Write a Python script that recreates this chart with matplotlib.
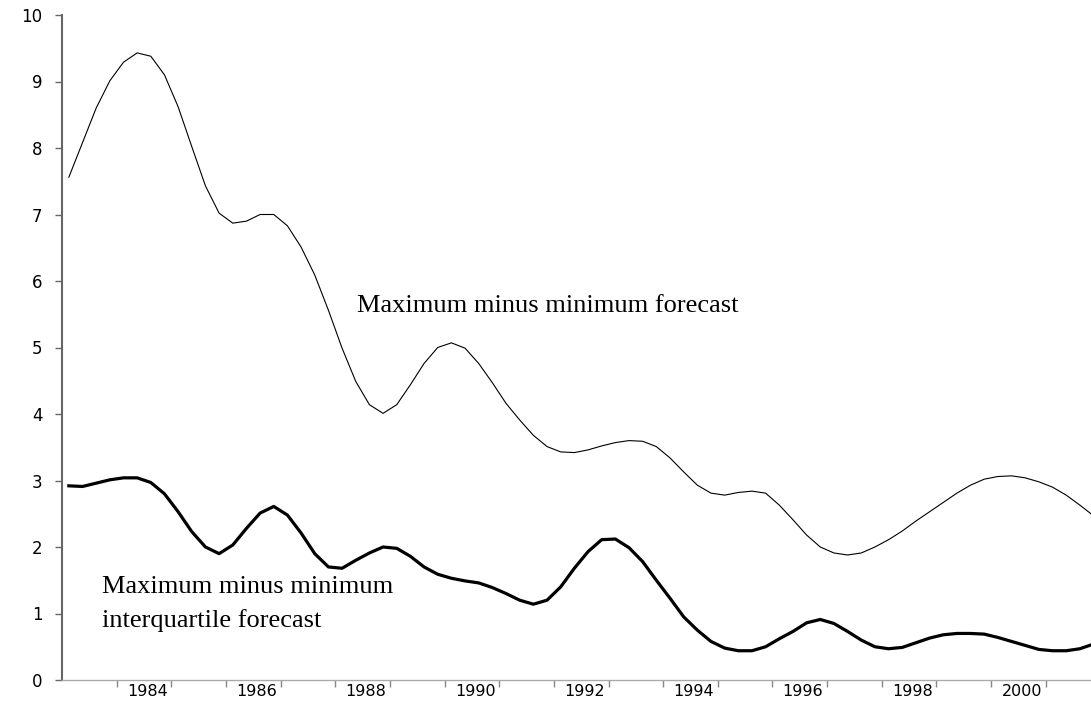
import numpy as np
import matplotlib
matplotlib.use("Agg")
import matplotlib.pyplot as plt

## quarterly data, 1983Q1 - 2001Q4
start_year = 1983
max_min = [7.56, 8.08, 8.60, 9.01, 9.29, 9.43, 9.38, 9.10, 8.62, 8.02,
           7.43, 7.02, 6.87, 6.90, 7.00, 7.00, 6.83, 6.51, 6.09, 5.56,
           4.99, 4.49, 4.14, 4.01, 4.14, 4.44, 4.76, 5.00, 5.07, 4.99,
           4.76, 4.47, 4.16, 3.91, 3.68, 3.51, 3.43, 3.42, 3.46, 3.52,
           3.57, 3.60, 3.59, 3.51, 3.34, 3.13, 2.93, 2.81, 2.78, 2.82,
           2.84, 2.81, 2.63, 2.41, 2.18, 2.00, 1.91, 1.88, 1.91, 2.00,
           2.11, 2.24, 2.39, 2.53, 2.67, 2.81, 2.93, 3.02, 3.06, 3.07,
           3.04, 2.98, 2.90, 2.78, 2.63, 2.47]
max_min_iqr = [2.92, 2.91, 2.96, 3.01, 3.04, 3.04, 2.97, 2.80, 2.53, 2.23,
               2.00, 1.90, 2.03, 2.28, 2.51, 2.61, 2.48, 2.21, 1.90, 1.70,
               1.68, 1.80, 1.91, 2.00, 1.98, 1.86, 1.70, 1.59, 1.53, 1.49,
               1.46, 1.39, 1.30, 1.20, 1.14, 1.20, 1.40, 1.68, 1.93, 2.11,
               2.12, 1.99, 1.78, 1.50, 1.23, 0.95, 0.75, 0.58, 0.48, 0.44,
               0.44, 0.50, 0.62, 0.73, 0.86, 0.91, 0.85, 0.73, 0.60, 0.50,
               0.47, 0.49, 0.56, 0.63, 0.68, 0.70, 0.70, 0.69, 0.64, 0.58,
               0.52, 0.46, 0.44, 0.44, 0.47, 0.54]
label_years = [1984, 1986, 1988, 1990, 1992, 1994, 1996, 1998, 2000]
label_thin = "Maximum minus minimum forecast"
label_thick = ["Maximum minus minimum", "interquartile forecast"]

# each quarter plotted at the middle of its category
t = start_year + (np.arange(len(max_min)) + 0.5) / 4.0

fig = plt.figure(figsize=(10.91, 7.04), dpi=100)
ax = fig.add_axes([62/1091, 24/704, 1029/1091, 665/704])

ax.plot(t, max_min, color="black", lw=0.8)
ax.plot(t, max_min_iqr, color="black", lw=2.3)

ax.set_xlim(1983, 1983 + 1029/54.65)
ax.set_ylim(0, 10)

## axes styling
ax.spines["top"].set_visible(False)
ax.spines["right"].set_visible(False)
ax.spines["left"].set_color("#666666")
ax.spines["left"].set_linewidth(1.5)
ax.spines["bottom"].set_color("#aaaaaa")
ax.spines["bottom"].set_linewidth(1.0)

ax.set_yticks(range(0, 11))
ax.tick_params(axis="y", direction="out", length=5, width=1, color="#666666",
               pad=9, labelsize=12)
ax.set_xticks(range(1984, 2002))
ax.set_xticklabels([])
ax.tick_params(axis="x", which="major", direction="out", length=5, width=1,
               color="#888888")
ax.set_xticks([y + 0.56 for y in label_years], minor=True)
ax.set_xticklabels([str(y) for y in label_years], minor=True)
ax.tick_params(axis="x", which="minor", length=0, pad=3, labelsize=11.5)

## annotations
ax.text(1988.40, 5.53, label_thin, family="Liberation Serif", fontsize=19,
        va="baseline", ha="left")
ax.text(1983.73, 1.31, label_thick[0], family="Liberation Serif", fontsize=19,
        va="baseline", ha="left")
ax.text(1983.73, 0.80, label_thick[1], family="Liberation Serif", fontsize=19,
        va="baseline", ha="left")

plt.savefig("out.png", dpi=100)
plt.close()
